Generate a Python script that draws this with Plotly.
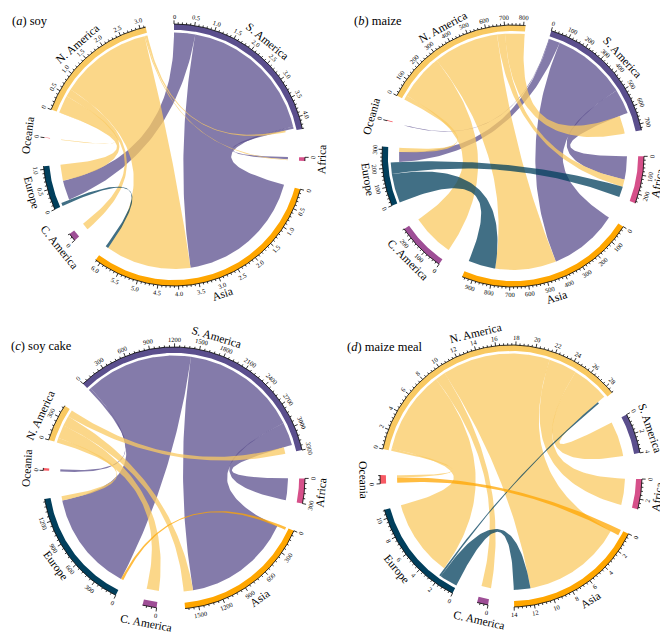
import numpy as np
import plotly.graph_objects as go

W, H = 668, 634
R_PX = 131.0

# ---------------- data ----------------
SECTORS = ["S. America", "Africa", "Asia", "C. America", "Europe", "Oceania", "N. America"]
SECTOR_COLORS = ["#5b4f8d", "#d6508a", "#ffa600", "#9e4e96", "#013f5c", "#f85a64", "#f9c961"]

# (a) soy
soy_src = ["S. America", "S. America", "S. America", "N. America", "N. America", "N. America",
           "N. America", "N. America", "N. America", "Europe"]
soy_dst = ["Europe", "Asia", "Africa", "Oceania", "Europe", "C. America",
           "Asia", "Africa", "S. America", "Asia"]
soy_val = [0.55, 3.65, 0.06, 0.01, 0.45, 0.2, 2.4, 0.03, 0.05, 0.08]

# (b) maize
maize_src = ["S. America", "S. America", "S. America", "S. America",
             "N. America", "N. America", "N. America", "N. America", "N. America",
             "Europe", "Europe"]
maize_dst = ["Oceania", "Europe", "Asia", "Africa",
             "Europe", "C. America", "Asia", "Africa", "S. America",
             "Asia", "Africa"]
maize_val = [4, 60, 420, 140, 25, 260, 370, 45, 110, 165, 65]

# (c) soy cake
soycake_src = ["S. America", "S. America", "S. America", "S. America",
               "N. America", "N. America", "N. America", "N. America", "Asia"]
soycake_dst = ["Oceania", "Europe", "Asia", "Africa",
               "Europe", "C. America", "Asia", "S. America", "Europe"]
soycake_val = [30, 1380, 1500, 300, 60, 170, 130, 90, 35]

# (d) maize meal
maizemeal_src = ["N. America", "N. America", "N. America", "N. America", "N. America", "N. America",
                 "Europe", "Europe", "Asia"]
maizemeal_dst = ["Oceania", "Europe", "C. America", "Asia", "Africa", "S. America",
                 "Asia", "N. America", "Oceania"]
maizemeal_val = [0.25, 8.8, 1.1, 11.5, 3.0, 4.0, 1.9, 0.2, 0.6]

panel_letters = ["a", "b", "c", "d"]
panel_names = ["soy", "maize", "soy cake", "maize meal"]
tick_steps = [0.5, 100, 300, 2]
tick_decimals = [1, 0, 0, 0]

FLOWS = [(soy_src, soy_dst, soy_val), (maize_src, maize_dst, maize_val),
         (soycake_src, soycake_dst, soycake_val), (maizemeal_src, maizemeal_dst, maizemeal_val)]

# ---------------- layout / style ----------------
PANEL_BOX = [(0, 0, 334, 317), (334, 0, 668, 317), (0, 317, 334, 634), (334, 317, 668, 634)]
PANEL_CENTER = [(166, 147), (505, 148), (166, 470), (503, 468)]
START_DEG = [90, 73, 134, 28]
GAP_DEG = [12.5, 11.5, 12.5, 11.5]
TITLE_POS = [(2, 13), (344, 13), (1, 338), (337, 339)]

R_BAR_IN, R_BAR_OUT = 0.955, 1.0
R_SRC, R_DST = 0.935, 0.87
TICK_MAJ, TICK_MIN = 0.028, 0.014
R_TICKLAB, R_NAME = 1.06, 1.125
FONT = "Liberation Serif, Times New Roman, Times, serif"
LINK_ALPHA = 0.75


def hex_rgba(h, a):
    h = h.lstrip("#")
    return f"rgba({int(h[0:2],16)},{int(h[2:4],16)},{int(h[4:6],16)},{a})"


def pol(r, th):
    t = np.radians(th)
    return r * np.cos(t), r * np.sin(t)


def text_angle(th):
    t = th % 360
    ang = 90 - t if t <= 180 else -(t + 90)
    return (ang + 180) % 360 - 180


fig = go.Figure()
annotations = []
layout_axes = {}
n = len(SECTORS)
idx = {s: i for i, s in enumerate(SECTORS)}

for p in range(4):
    X0, Y0, X1, Y1 = PANEL_BOX[p]
    cx, cy = PANEL_CENTER[p]
    k = "" if p == 0 else str(p + 1)
    xr, yr = "x" + k, "y" + k
    layout_axes["xaxis" + k] = dict(domain=[X0 / W, X1 / W], range=[(X0 - cx) / R_PX, (X1 - cx) / R_PX],
                                    visible=False, fixedrange=True)
    layout_axes["yaxis" + k] = dict(domain=[1 - Y1 / H, 1 - Y0 / H], range=[(cy - Y1) / R_PX, (cy - Y0) / R_PX],
                                    visible=False, fixedrange=True)

    src, dst, val = FLOWS[p]
    M = np.zeros((n, n))
    for s, d, v in zip(src, dst, val):
        M[idx[s], idx[d]] += v
    tot = M.sum(1) + M.sum(0)
    gap = GAP_DEG[p]
    scale = (360 - n * gap) / tot.sum()
    th0 = np.zeros(n)
    cur = START_DEG[p]
    for i in range(n):
        th0[i] = cur
        cur -= tot[i] * scale + gap

    # positions within sectors: outgoing first, then incoming
    out_pos, in_pos = {}, {}
    for i in range(n):
        c = 0.0
        order = [(i - kk) % n for kk in range(1, n)]
        for q in order:
            if M[i, q] > 0:
                out_pos[(i, q)] = (c, c + M[i, q]); c += M[i, q]
        for q in order:
            if M[q, i] > 0:
                in_pos[(q, i)] = (c, c + M[q, i]); c += M[q, i]

    def ang(i, u):
        return th0[i] - u * scale

    # links
    tb = np.linspace(0, 1, 60)
    for s, d, v in zip(src, dst, val):
        i, j = idx[s], idx[d]
        a1, a2 = ang(i, out_pos[(i, j)][0]), ang(i, out_pos[(i, j)][1])
        b1, b2 = ang(j, in_pos[(i, j)][0]), ang(j, in_pos[(i, j)][1])
        na = max(3, int(abs(a1 - a2) * 2))
        nb = max(3, int(abs(b1 - b2) * 2))
        xs, ys = [], []
        ta = np.linspace(a1, a2, na)
        x, y = pol(R_SRC, ta); xs += list(x); ys += list(y)
        P0 = np.array(pol(R_SRC, a2)); P2 = np.array(pol(R_DST, b1))
        xs += list((1 - tb) ** 2 * P0[0] + tb ** 2 * P2[0]); ys += list((1 - tb) ** 2 * P0[1] + tb ** 2 * P2[1])
        tt = np.linspace(b1, b2, nb)
        x, y = pol(R_DST, tt); xs += list(x); ys += list(y)
        P0 = np.array(pol(R_DST, b2)); P2 = np.array(pol(R_SRC, a1))
        xs += list((1 - tb) ** 2 * P0[0] + tb ** 2 * P2[0]); ys += list((1 - tb) ** 2 * P0[1] + tb ** 2 * P2[1])
        fig.add_trace(go.Scatter(x=xs, y=ys, mode="lines", fill="toself", line=dict(width=0),
                                 fillcolor=hex_rgba(SECTOR_COLORS[i], LINK_ALPHA), hoverinfo="skip",
                                 xaxis=xr, yaxis=yr, showlegend=False))

    # sector bars, axes, ticks, labels
    axx, axy = [], []
    step = tick_steps[p]
    for i in range(n):
        t_start, t_end = th0[i], th0[i] - tot[i] * scale
        tt = np.linspace(t_start, t_end, max(3, int(abs(t_end - t_start) * 2)))
        xo, yo = pol(R_BAR_OUT, tt)
        xi, yi = pol(R_BAR_IN, tt[::-1])
        fig.add_trace(go.Scatter(x=list(xo) + list(xi), y=list(yo) + list(yi), mode="lines", fill="toself",
                                 line=dict(width=0), fillcolor=SECTOR_COLORS[i], hoverinfo="skip",
                                 xaxis=xr, yaxis=yr, showlegend=False))
        axx += list(xo) + [None]; axy += list(yo) + [None]
        nmin = int(tot[i] / (step / 5) + 1e-9)
        for m in range(nmin + 1):
            u = m * step / 5
            th = ang(i, u)
            major = (m % 5 == 0)
            L = TICK_MAJ if major else TICK_MIN
            xa, ya = pol(R_BAR_OUT, th); xb, yb = pol(R_BAR_OUT + L, th)
            axx += [xa, xb, None]; axy += [ya, yb, None]
            if major:
                val_lab = m // 5 * step
                if tick_decimals[p] == 0 or val_lab == 0:
                    txt = f"{val_lab:.0f}"
                else:
                    txt = f"{val_lab:.{tick_decimals[p]}f}"
                lx, ly = pol(R_TICKLAB, th)
                annotations.append(dict(x=lx, y=ly, xref=xr, yref=yr, text=txt, showarrow=False,
                                        textangle=text_angle(th), xanchor="center", yanchor="middle",
                                        borderpad=0,
                                        font=dict(family=FONT, size=6.5, color="black")))
        mid = (t_start + t_end) / 2
        lx, ly = pol(R_NAME, mid)
        annotations.append(dict(x=lx, y=ly, xref=xr, yref=yr, text=SECTORS[i], showarrow=False,
                                textangle=text_angle(mid), xanchor="center", yanchor="middle",
                                borderpad=0,
                                font=dict(family=FONT, size=11.5, color="black")))
    fig.add_trace(go.Scatter(x=axx, y=axy, mode="lines", line=dict(color="black", width=0.8),
                             hoverinfo="skip", xaxis=xr, yaxis=yr, showlegend=False))

    tx, ty = TITLE_POS[p]
    annotations.append(dict(x=tx / W, y=1 - ty / H, xref="paper", yref="paper",
                            text=f"(<i>{panel_letters[p]}</i>) {panel_names[p]}", showarrow=False,
                            xanchor="left", yanchor="middle", font=dict(family=FONT, size=12.5, color="black")))

fig.update_layout(width=W, height=H, margin=dict(l=0, r=0, t=0, b=0), paper_bgcolor="white",
                  plot_bgcolor="white", showlegend=False, hovermode=False, annotations=annotations,
                  **layout_axes)
fig.write_html("out.html")
